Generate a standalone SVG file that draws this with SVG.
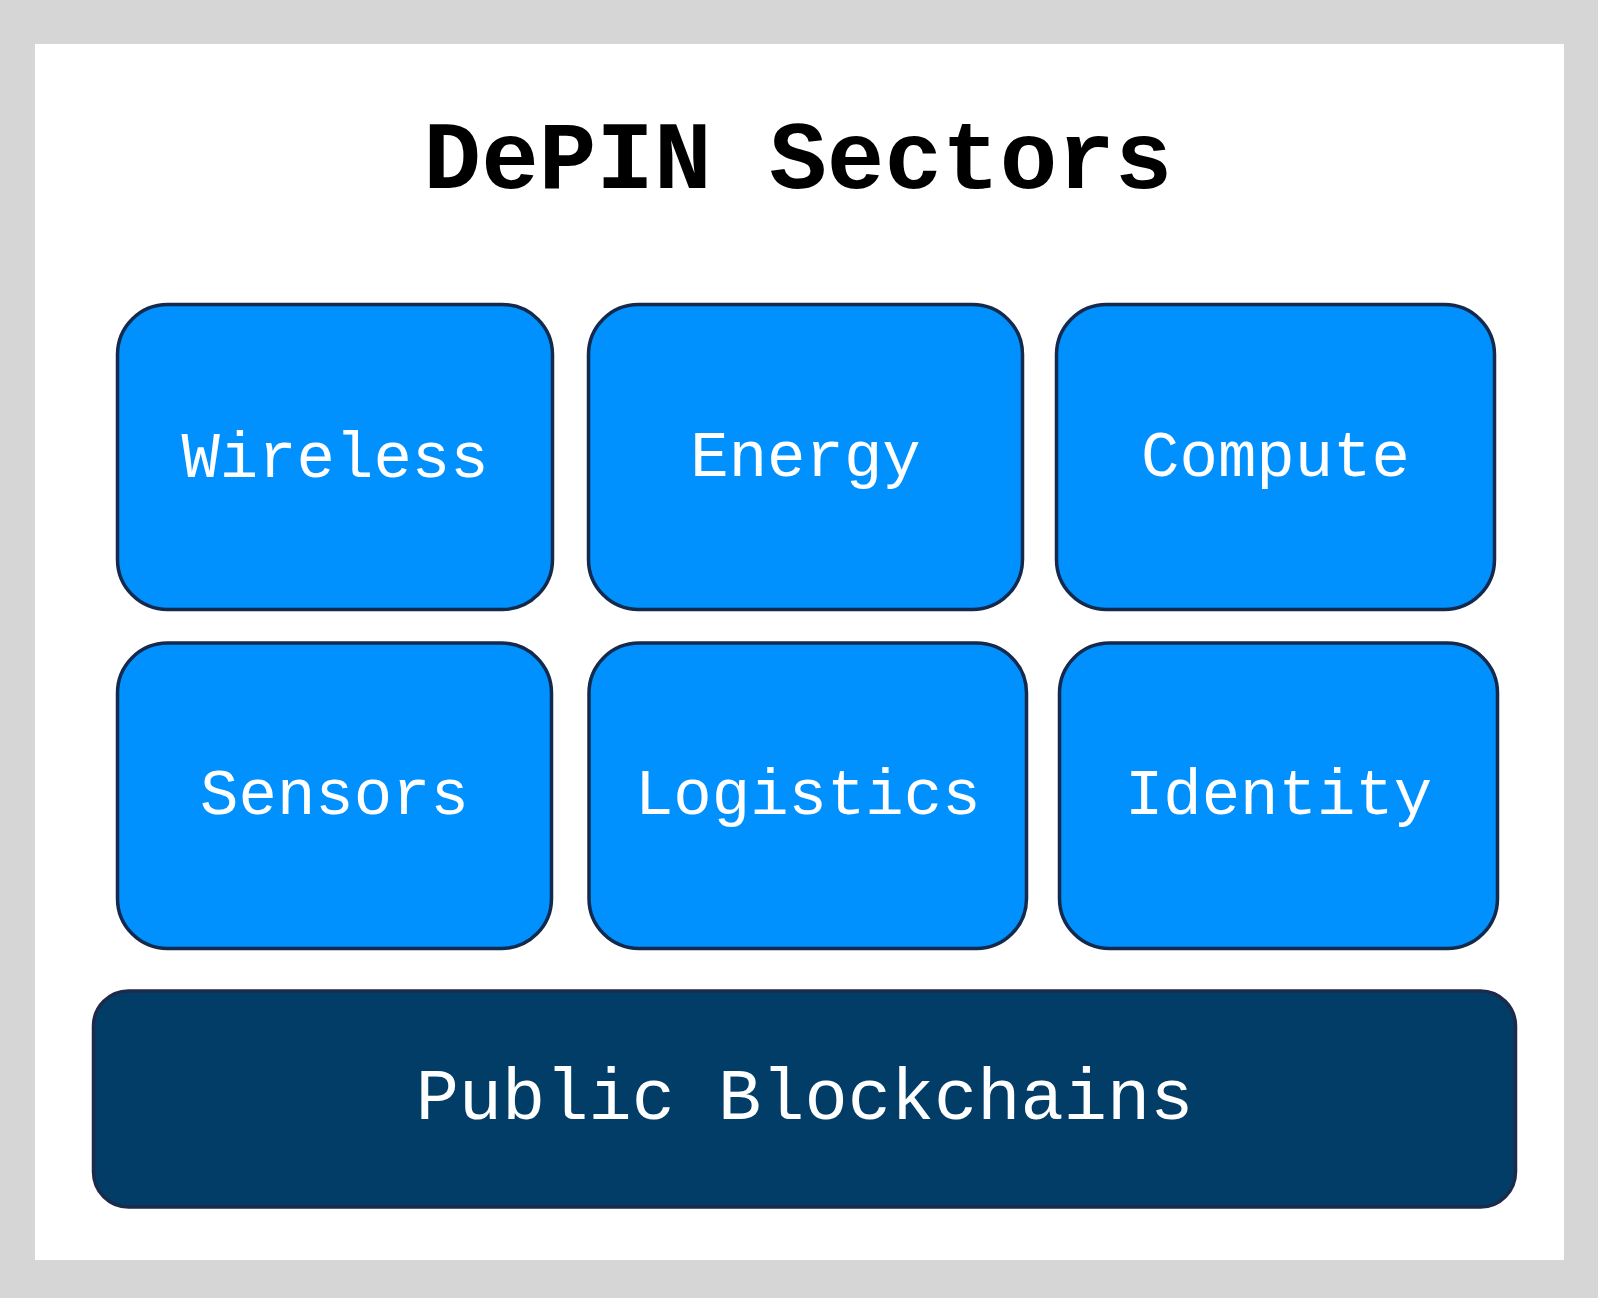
<svg xmlns="http://www.w3.org/2000/svg" width="1598" height="1298" viewBox="0 0 1598 1298">
  <style>
    .sector rect { fill: #0091ff; stroke: #132a4c; stroke-width: 3.5; }
    .base rect { fill: #023d68; stroke: #1c2b4b; stroke-width: 3.5; }
    .lbl { font-family: "Courier New", "Liberation Mono", monospace; fill: #ffffff; text-anchor: middle; }
    .title { font-family: "Courier New", "Liberation Mono", monospace; font-weight: bold; fill: #000000; text-anchor: middle; font-size: 96px; }
  </style>
  <rect x="0" y="0" width="1598" height="1298" fill="#d6d6d6"/>
  <rect x="35" y="44" width="1529" height="1216" fill="#ffffff"/>
  <g id="title">
    <text class="title" x="798" y="188">DePIN Sectors</text>
  </g>
  <g id="wireless" class="sector">
    <rect x="117.5" y="304.5" width="435" height="305" rx="50" ry="50"/>
    <text class="lbl" x="335" y="477" font-size="64">Wireless</text>
  </g>
  <g id="energy" class="sector">
    <rect x="588.5" y="304.5" width="434" height="305" rx="50" ry="50"/>
    <text class="lbl" x="805.5" y="476" font-size="64">Energy</text>
  </g>
  <g id="compute" class="sector">
    <rect x="1056.5" y="304.5" width="438" height="305" rx="50" ry="50"/>
    <text class="lbl" x="1275.5" y="476" font-size="64">Compute</text>
  </g>
  <g id="sensors" class="sector">
    <rect x="117.5" y="643" width="434" height="305.5" rx="50" ry="50"/>
    <text class="lbl" x="334.5" y="814" font-size="64">Sensors</text>
  </g>
  <g id="logistics" class="sector">
    <rect x="589" y="643" width="437.5" height="305.5" rx="50" ry="50"/>
    <text class="lbl" x="807.75" y="814" font-size="64">Logistics</text>
  </g>
  <g id="identity" class="sector">
    <rect x="1059.5" y="643" width="438" height="305.5" rx="50" ry="50"/>
    <text class="lbl" x="1278.5" y="814" font-size="64">Identity</text>
  </g>
  <g id="public-blockchains" class="base">
    <rect x="93.5" y="991" width="1422" height="216" rx="35" ry="35"/>
    <text class="lbl" x="804.5" y="1119" font-size="72">Public Blockchains</text>
  </g>
  <g id="connectors"/>
</svg>
